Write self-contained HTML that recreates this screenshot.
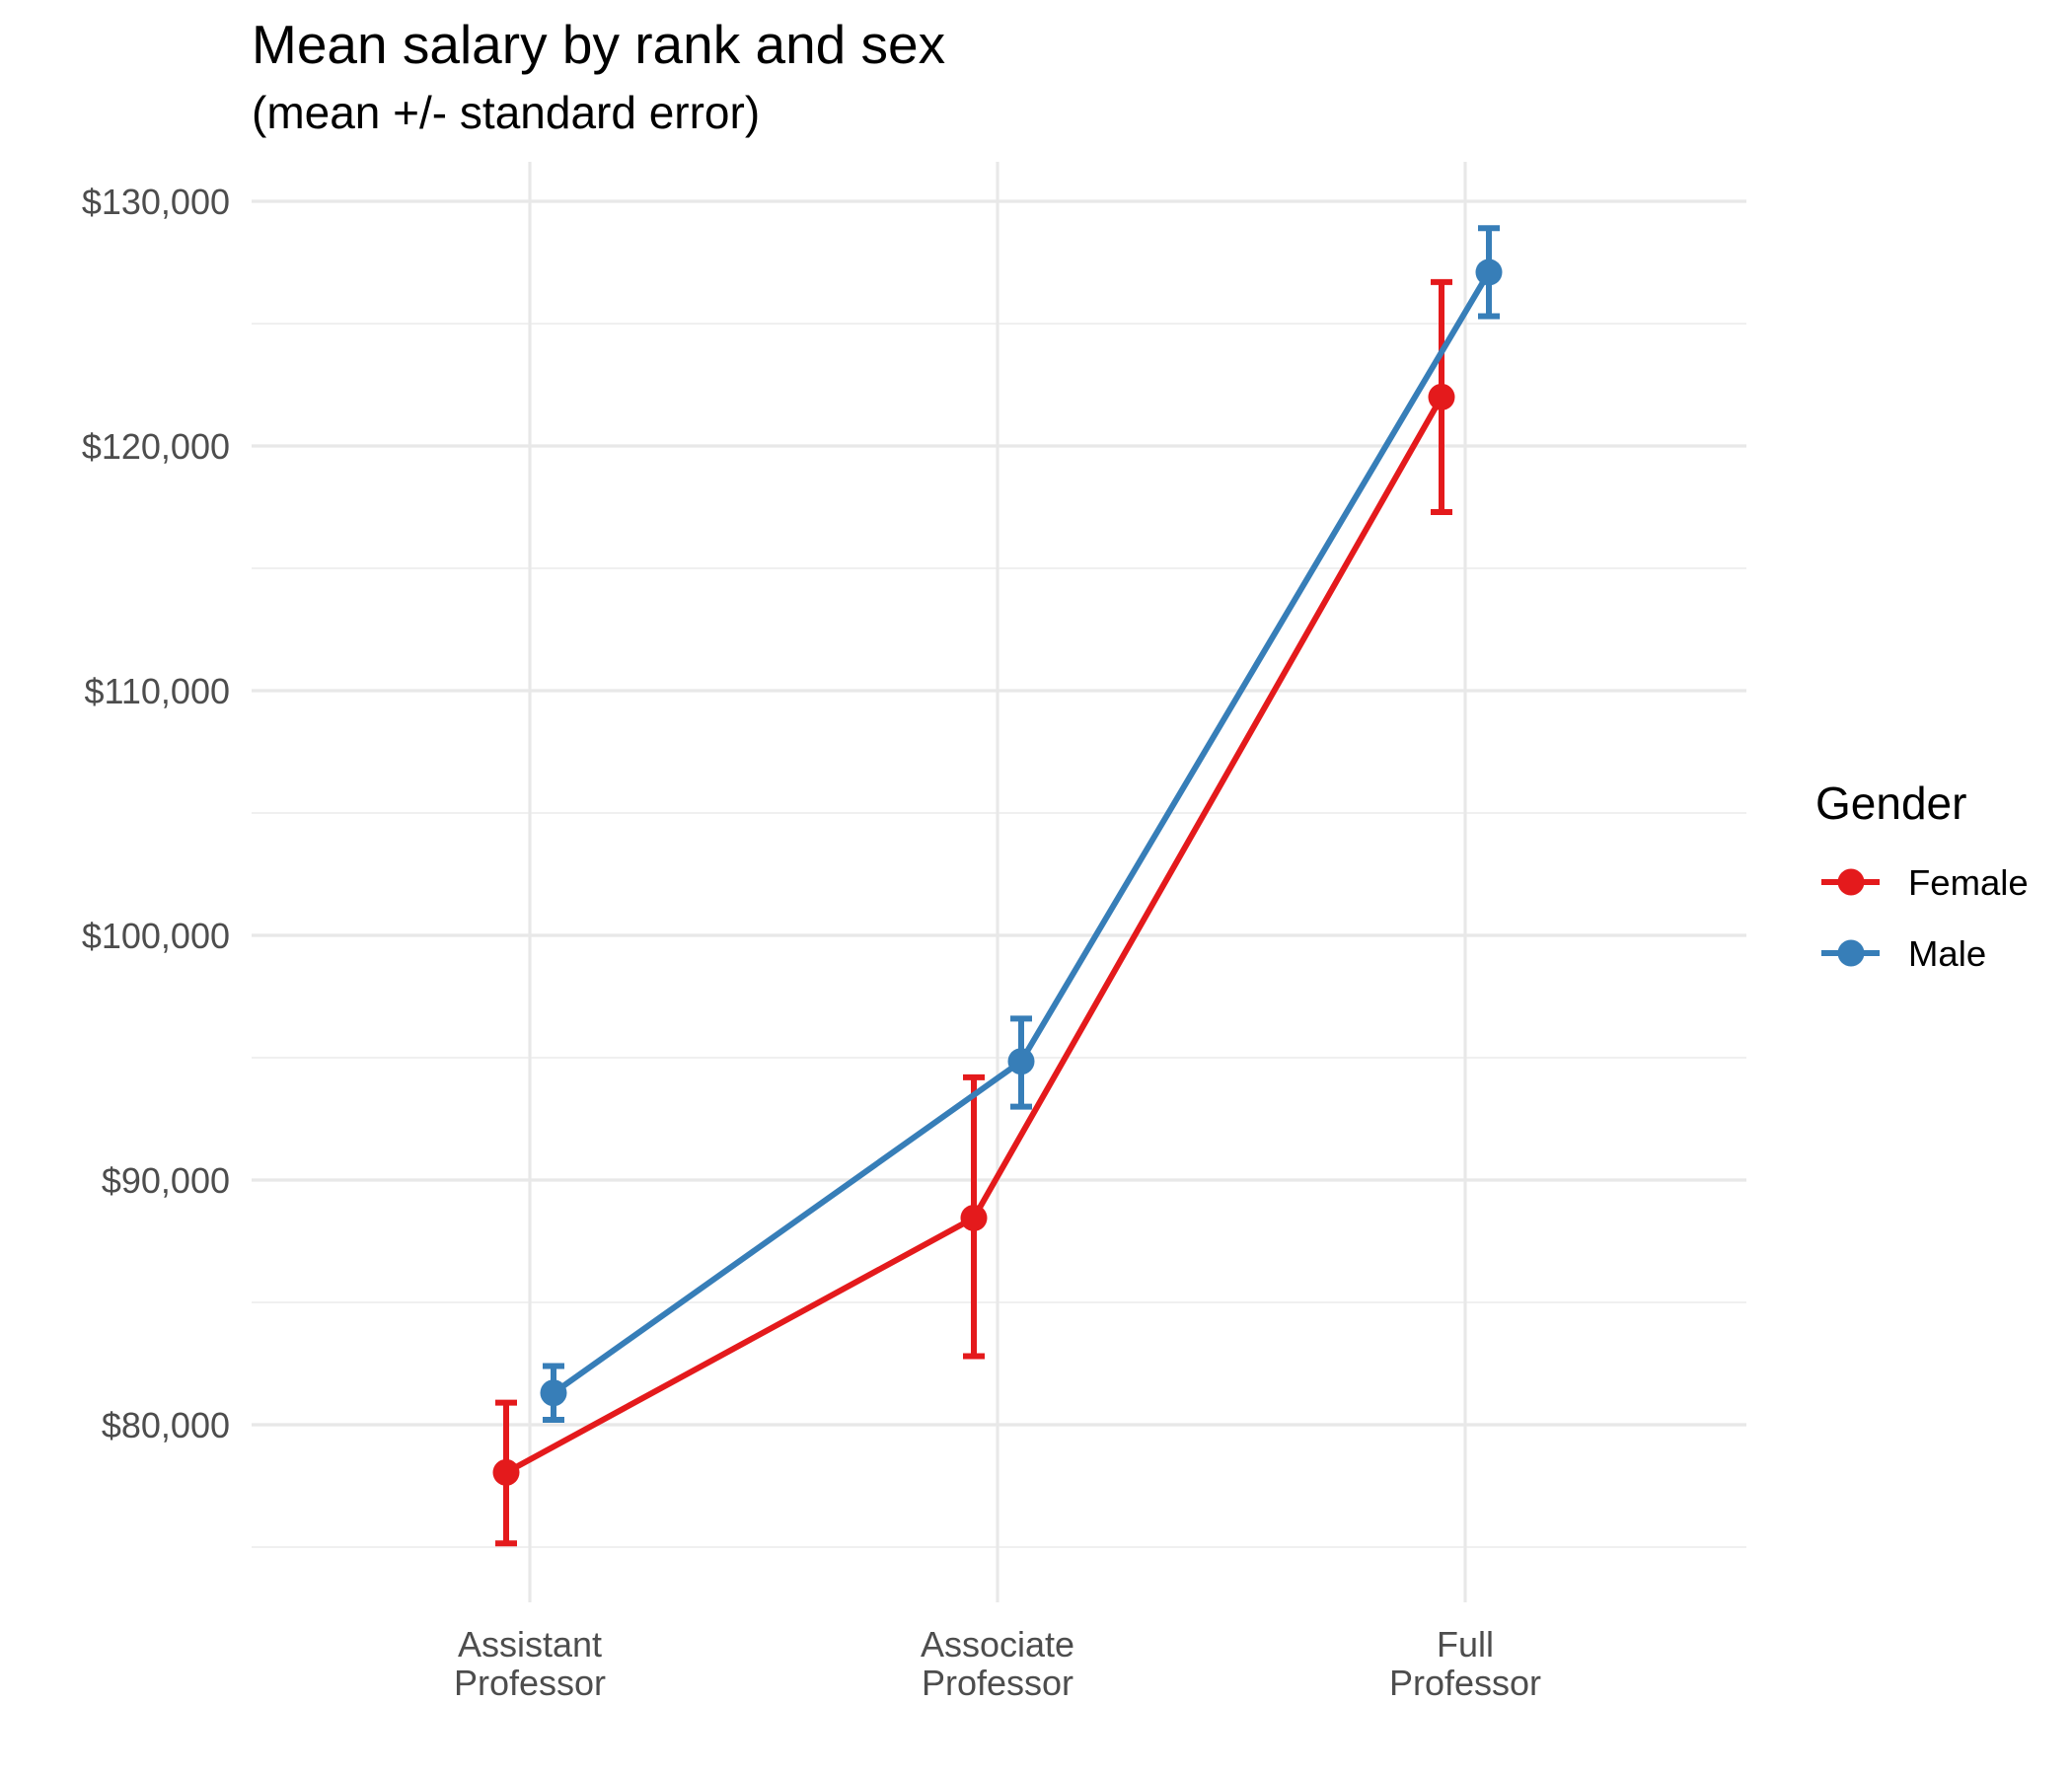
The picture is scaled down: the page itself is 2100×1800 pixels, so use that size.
<!DOCTYPE html>
<html><head><meta charset="utf-8"><style>
html,body{margin:0;padding:0;background:#fff}
svg{display:block;font-family:"Liberation Sans",Arial,sans-serif}
</style></head><body>
<svg id="chart" width="2100" height="1800" viewBox="0 0 2100 1800">
<text x="255" y="64" font-size="55" fill="#000">Mean salary by rank and sex</text>
<text x="255" y="130" font-size="46" fill="#000">(mean +/- standard error)</text>
<g id="grid"></g>
<g id="axes"></g>
<g id="series"></g>
<g>
<text x="1840" y="830" font-size="46" fill="#000">Gender</text>
<g>
<line x1="1846" y1="894" x2="1905" y2="894" stroke="#E41A1C" stroke-width="6"/>
<circle cx="1876" cy="894" r="13.5" fill="#E41A1C"/>
<text x="1934" y="907" font-size="36.5" fill="#000">Female</text></g>
<g>
<line x1="1846" y1="966" x2="1905" y2="966" stroke="#377EB8" stroke-width="6"/>
<circle cx="1876" cy="966" r="13.5" fill="#377EB8"/>
<text x="1934" y="979" font-size="36.5" fill="#000">Male</text></g>
</g>
</svg>
<script>
const categories = [["Assistant","Professor"],["Associate","Professor"],["Full","Professor"]];
const femaleMean = [78050, 88450, 122000];
const femaleLow = [75150, 82800, 117300];
const femaleHigh = [80900, 94200, 126700];
const maleMean = [81300, 94850, 127100];
const maleLow = [80200, 93000, 125300];
const maleHigh = [82400, 96600, 128900];
const yTicks = [80000, 90000, 100000, 110000, 120000, 130000];
const yMinor = [75000, 85000, 95000, 105000, 115000, 125000];

const NS = "http://www.w3.org/2000/svg";
const L = 255, R = 1770, T = 164, B = 1624;
function y(v){ return 1444 - (v - 80000) * (1444 - 204) / 50000; }
function x(i){ return 537 + i * 474; }
function mk(tag, attrs, parent){ const e = document.createElementNS(NS, tag); for (const k in attrs) e.setAttribute(k, attrs[k]); parent.appendChild(e); return e; }
const grid = document.getElementById('grid'), axes = document.getElementById('axes'), series = document.getElementById('series');
yMinor.forEach(v => {
  const l = mk('line', {x1:L, x2:R, y1:y(v), y2:y(v), stroke:'#ebebeb', 'stroke-width':1.6}, grid);
  
  
});
yTicks.forEach(v => {
  const l = mk('line', {x1:L, x2:R, y1:y(v), y2:y(v), stroke:'#e8e8e8', 'stroke-width':3.2}, grid);
  
  
  const t = mk('text', {x:233, y:y(v)+13, 'text-anchor':'end', 'font-size':36, fill:'#4d4d4d'}, axes);
  t.textContent = '$' + v.toLocaleString('en-US');
  
  
});
categories.forEach((c, i) => {
  const l = mk('line', {x1:x(i), x2:x(i), y1:T, y2:B, stroke:'#e8e8e8', 'stroke-width':3.2}, grid);
  
  
  const t = mk('text', {x:x(i), y:1679, 'text-anchor':'middle', 'font-size':36, fill:'#4d4d4d'}, axes);
  
  
  c.forEach((line, j) => { const s = mk('tspan', {x:x(i), dy: j ? 39 : 0}, t); s.textContent = line; });
});
function draw(name, mean, lo, hi, color, off){
  const pts = mean.map((v, i) => (x(i)+off) + ',' + y(v)).join(' ');
  const pl = mk('polyline', {points:pts, fill:'none', stroke:color, 'stroke-width':6}, series);
  
  
  mean.forEach((v, i) => {
    const cx = x(i) + off;
    const g = mk('g', {stroke:color, 'stroke-width':6, fill:'none'}, series);
    
    
    mk('line', {x1:cx, x2:cx, y1:y(lo[i]), y2:y(hi[i])}, g);
    mk('line', {x1:cx-11, x2:cx+11, y1:y(lo[i]), y2:y(lo[i])}, g);
    mk('line', {x1:cx-11, x2:cx+11, y1:y(hi[i]), y2:y(hi[i])}, g);
    const c = mk('circle', {cx:cx, cy:y(v), r:13.5, fill:color}, series);
    
    
  });
}
draw('female', femaleMean, femaleLow, femaleHigh, '#E41A1C', -24);
draw('male', maleMean, maleLow, maleHigh, '#377EB8', 24);
</script>
</body></html>
